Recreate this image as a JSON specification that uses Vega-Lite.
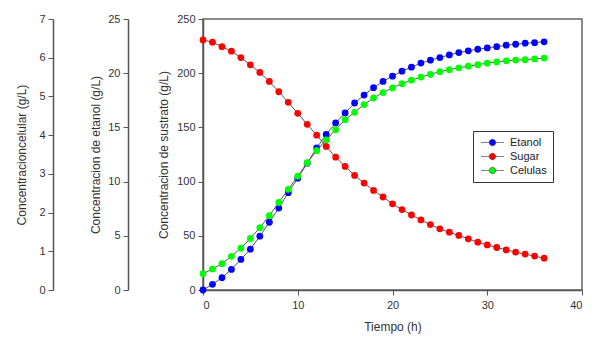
{
  "$schema": "https://vega.github.io/schema/vega-lite/v6.json",
  "width": 379,
  "height": 271,
  "autosize": {"type": "none"},
  "padding": {"left": 203, "top": 19, "right": 18, "bottom": 55},
  "background": "white",
  "config": {
    "font": "Liberation Sans",
    "view": {"stroke": "#666", "strokeWidth": 1.5},
    "axis": {
      "grid": false,
      "domainColor": "#555",
      "domainWidth": 1.5,
      "tickColor": "#555",
      "tickSize": 5,
      "labelFont": "Liberation Sans",
      "labelFontSize": 11,
      "labelColor": "#333",
      "titleFont": "Liberation Sans",
      "titleFontSize": 12,
      "titleFontWeight": "normal",
      "titleColor": "#333",
      "labelPadding": 3
    },
    "legend": {
      "labelFont": "Liberation Sans",
      "labelFontSize": 11,
      "labelColor": "#222"
    }
  },
  "data": {
    "values": [
      {"t":0,"Sugar":230.7,"Etanol":0,"Celulas":0.42},
      {"t":1,"Sugar":228.6,"Etanol":0.52,"Celulas":0.54},
      {"t":2,"Sugar":224.5,"Etanol":1.13,"Celulas":0.68},
      {"t":3,"Sugar":220.3,"Etanol":1.9,"Celulas":0.87},
      {"t":4,"Sugar":214.4,"Etanol":2.82,"Celulas":1.08},
      {"t":5,"Sugar":207.7,"Etanol":3.77,"Celulas":1.33},
      {"t":6,"Sugar":200.7,"Etanol":4.96,"Celulas":1.61},
      {"t":7,"Sugar":192.4,"Etanol":6.25,"Celulas":1.92},
      {"t":8,"Sugar":182.9,"Etanol":7.56,"Celulas":2.26},
      {"t":9,"Sugar":173.1,"Etanol":8.98,"Celulas":2.6},
      {"t":10,"Sugar":163,"Etanol":10.32,"Celulas":2.94},
      {"t":11,"Sugar":152.8,"Etanol":11.7,"Celulas":3.29},
      {"t":12,"Sugar":142.8,"Etanol":13.1,"Celulas":3.6},
      {"t":13,"Sugar":132.4,"Etanol":14.35,"Celulas":3.88},
      {"t":14,"Sugar":122.5,"Etanol":15.41,"Celulas":4.14},
      {"t":15,"Sugar":114,"Etanol":16.33,"Celulas":4.4},
      {"t":16,"Sugar":105.7,"Etanol":17.25,"Celulas":4.59},
      {"t":17,"Sugar":98.6,"Etanol":17.98,"Celulas":4.79},
      {"t":18,"Sugar":91.9,"Etanol":18.66,"Celulas":4.96},
      {"t":19,"Sugar":85.8,"Etanol":19.24,"Celulas":5.1},
      {"t":20,"Sugar":79.5,"Etanol":19.73,"Celulas":5.22},
      {"t":21,"Sugar":74.2,"Etanol":20.19,"Celulas":5.33},
      {"t":22,"Sugar":69.2,"Etanol":20.56,"Celulas":5.42},
      {"t":23,"Sugar":64.6,"Etanol":20.93,"Celulas":5.5},
      {"t":24,"Sugar":60.4,"Etanol":21.2,"Celulas":5.57},
      {"t":25,"Sugar":56.4,"Etanol":21.44,"Celulas":5.64},
      {"t":26,"Sugar":53.3,"Etanol":21.69,"Celulas":5.69},
      {"t":27,"Sugar":50.3,"Etanol":21.9,"Celulas":5.74},
      {"t":28,"Sugar":47.2,"Etanol":22.06,"Celulas":5.78},
      {"t":29,"Sugar":44.1,"Etanol":22.21,"Celulas":5.82},
      {"t":30,"Sugar":41.6,"Etanol":22.33,"Celulas":5.86},
      {"t":31,"Sugar":39.2,"Etanol":22.45,"Celulas":5.89},
      {"t":32,"Sugar":37,"Etanol":22.58,"Celulas":5.92},
      {"t":33,"Sugar":34.9,"Etanol":22.67,"Celulas":5.94},
      {"t":34,"Sugar":33.1,"Etanol":22.77,"Celulas":5.95},
      {"t":35,"Sugar":31.3,"Etanol":22.82,"Celulas":5.97},
      {"t":36,"Sugar":29.4,"Etanol":22.89,"Celulas":5.99}
    ]
  },
  "transform": [{"fold": ["Etanol", "Sugar", "Celulas"], "as": ["series", "value"]}],
  "encoding": {
    "x": {
      "field": "t",
      "type": "quantitative",
      "scale": {"domain": [0, 40], "nice": false},
      "axis": {"values": [0, 10, 20, 30, 40], "title": "Tiempo (h)", "titlePadding": 11, "labelPadding": 4}
    }
  },
  "layer": [
    {
      "transform": [{"filter": "datum.series === 'Sugar'"}],
      "encoding": {
        "y": {
          "field": "value", "type": "quantitative",
          "scale": {"domain": [0, 250], "nice": false, "zero": true},
          "axis": {"orient": "left", "offset": 0, "values": [0, 50, 100, 150, 200, 250], "title": "Concentracion de sustrato (g/L)", "titlePadding": 6}
        }
      },
      "layer": [
        {"mark": {"type": "line", "color": "#555", "strokeWidth": 1}},
        {"mark": {"type": "point", "filled": true, "opacity": 1, "size": 46}, "encoding": {"color": {"field": "series", "type": "nominal"}}}
      ]
    },
    {
      "transform": [{"filter": "datum.series === 'Etanol'"}],
      "encoding": {
        "y": {
          "field": "value", "type": "quantitative",
          "scale": {"domain": [0, 25], "nice": false, "zero": true},
          "axis": {"orient": "left", "offset": 75, "values": [0, 5, 10, 15, 20, 25], "title": "Concentracion de etanol (g/L)", "titlePadding": 5}
        }
      },
      "layer": [
        {"mark": {"type": "line", "color": "#555", "strokeWidth": 1}},
        {"mark": {"type": "point", "filled": true, "opacity": 1, "size": 46}, "encoding": {"color": {"field": "series", "type": "nominal"}}}
      ]
    },
    {
      "transform": [{"filter": "datum.series === 'Celulas'"}],
      "encoding": {
        "y": {
          "field": "value", "type": "quantitative",
          "scale": {"domain": [0, 7], "nice": false, "zero": true},
          "axis": {"orient": "left", "offset": 150, "values": [0, 1, 2, 3, 4, 5, 6, 7], "title": "Concentracioncelular (g/L)", "titlePadding": 10}
        }
      },
      "layer": [
        {"mark": {"type": "line", "color": "#555", "strokeWidth": 1}},
        {
          "mark": {"type": "point", "filled": true, "opacity": 1, "size": 46},
          "encoding": {
            "color": {
              "field": "series", "type": "nominal",
              "scale": {"domain": ["Etanol", "Sugar", "Celulas"], "range": ["#0000ff", "#ff0000", "#00ff00"]},
              "legend": {
                "title": null,
                "orient": "none",
                "legendX": 270,
                "legendY": 112,
                "padding": 6,
                "strokeColor": "#333",
                "fillColor": "white",
                "symbolType": "M-2.3,0L-0.65,0M0.65,0L2.3,0M-0.65,0A0.65,0.65,0,1,0,0.65,0A0.65,0.65,0,1,0,-0.65,0Z",
                "symbolSize": 100,
                "symbolStrokeColor": "#333",
                "symbolStrokeWidth": 0.6,
                "symbolOffset": 8,
                "labelOffset": 12,
                "rowPadding": 2
              }
            }
          }
        }
      ]
    }
  ],
  "resolve": {"scale": {"y": "independent"}}
}
